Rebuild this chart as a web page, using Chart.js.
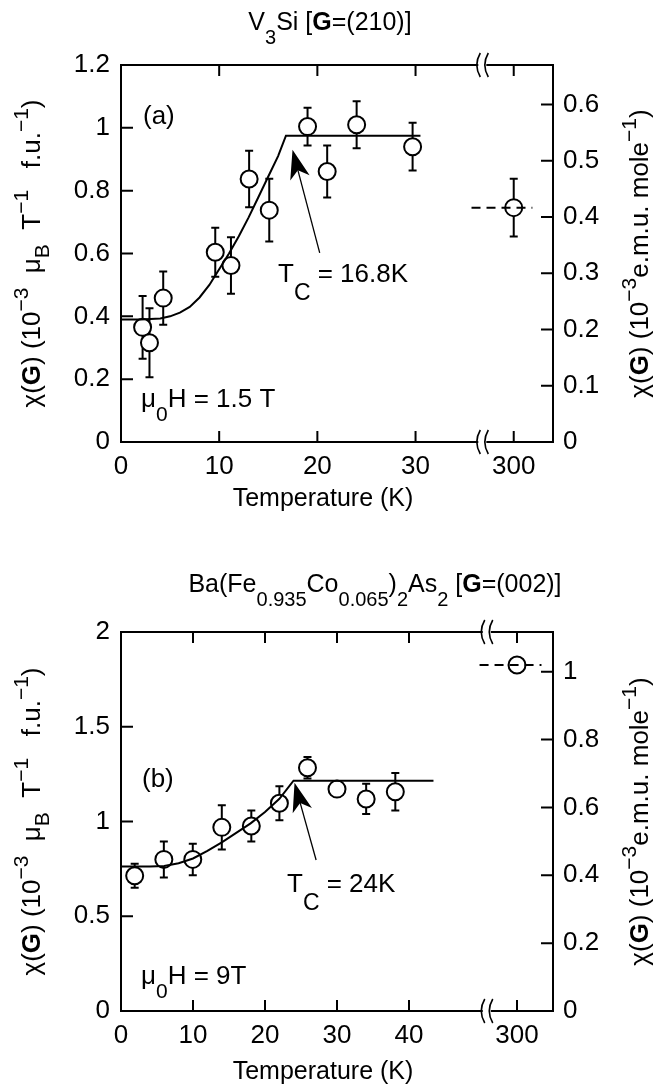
<!DOCTYPE html>
<html lang="en">
<head>
<meta charset="UTF-8">
<title>chi(G) x Temperature</title>
<script src="https://cdn.jsdelivr.net/npm/chart.js"></script>
<style>
  html, body { margin: 0; padding: 0; background: #fff; }
  body { width: 653px; height: 1092px; position: relative; overflow: hidden; }
  .painel { position: absolute; left: 0; width: 653px; height: 546px; }
  #painelA { top: 0; }
  #painelB { top: 546px; }
</style>
</head>
<body>
<div class="painel" id="painelA"><canvas id="graficoA"></canvas></div>
<div class="painel" id="painelB"><canvas id="graficoB"></canvas></div>

<script>
// ---------- (a) V3Si, G=(210) ----------
const tempA = [2.2, 2.9, 4.3, 9.6, 11.2, 13.05, 15.1, 19.0, 21.0, 24.0, 29.7];
const chiA  = [0.365, 0.316, 0.458, 0.604, 0.562, 0.837, 0.738, 1.004, 0.861, 1.01, 0.94];
const errA  = [0.10, 0.11, 0.085, 0.078, 0.09, 0.09, 0.10, 0.06, 0.083, 0.075, 0.076];
const chi300A = 0.746;
const err300A = 0.092;
const ajusteTA   = [0, 2, 4, 5, 6, 7, 8, 9, 10, 11, 12, 13, 14, 15, 16, 16.8, 30.5];
const ajusteChiA = [0.39, 0.39, 0.393, 0.40, 0.412, 0.43, 0.46, 0.50, 0.55, 0.60, 0.655, 0.715, 0.78, 0.845, 0.91, 0.975, 0.975];
// eixo x quebrado: 300 K fica na posicao 40 do eixo
const posXA     = [0, 10, 20, 30, 40];
const rotulosXA = ['0', '10', '20', '30', '300'];
const tracoXA   = [35.7, 41.9];
const quebraA   = 36.8;
const ticksYA     = [0, 0.2, 0.4, 0.6, 0.8, 1, 1.2];
const rotulosYA   = ['0', '0.2', '0.4', '0.6', '0.8', '1', '1.2'];
const ticksY2A    = [0, 0.1, 0.2, 0.3, 0.4, 0.5, 0.6];
const rotulosY2A  = ['0', '0.1', '0.2', '0.3', '0.4', '0.5', '0.6'];

// ---------- (b) Ba(Fe0.935Co0.065)2As2, G=(002) ----------
const tempB = [1.9, 5.95, 9.97, 14.0, 18.1, 22.0, 25.9, 30.0, 34.05, 38.1];
const chiB  = [0.714, 0.80, 0.80, 0.969, 0.976, 1.096, 1.284, 1.171, 1.119, 1.157];
const errB  = [0.063, 0.095, 0.083, 0.117, 0.082, 0.09, 0.057, 0.035, 0.08, 0.099];
const chi300B = 1.826;
const err300B = 0.035;
const ajusteTB   = [0, 4, 6, 8, 10, 12, 14, 16, 18, 20, 22, 23.96, 43.4];
const ajusteChiB = [0.762, 0.762, 0.765, 0.78, 0.805, 0.845, 0.89, 0.94, 0.99, 1.05, 1.12, 1.215, 1.215];
const posXB     = [0, 10, 20, 30, 40, 55];
const rotulosXB = ['0', '10', '20', '30', '40', '300'];
const tracoXB   = [49.8, 58.4];
const quebraB   = 50.8;
const ticksYB     = [0, 0.5, 1, 1.5, 2];
const rotulosYB   = ['0', '0.5', '1', '1.5', '2'];
const ticksY2B    = [0, 0.2, 0.4, 0.6, 0.8, 1];
const rotulosY2B  = ['0', '0.2', '0.4', '0.6', '0.8', '1'];

// 1 muB T^-1 por f.u. = 0.5585 e.m.u. mole^-1
const EMU_POR_MUB = 0.5585;

const FONTE = "'Liberation Sans', Arial, Helvetica, sans-serif";
Chart.defaults.font.family = FONTE;
Chart.defaults.color = '#000';

// texto com indices, expoentes e negrito
function textoRico(ctx, partes, x, y, o) {
    const fonte = p => {
        const ind = p[1] === 'sup' || p[1] === 'sub';
        return (p[1] === 'b' ? 'bold ' : '') + (ind ? o.tamInd : o.tam) + 'px ' + FONTE;
    };
    ctx.save();
    ctx.translate(x, y);
    if (o.rot) ctx.rotate(o.rot);
    let total = 0;
    partes.forEach(p => { ctx.font = fonte(p); total += ctx.measureText(p[0]).width; });
    let cx = o.alinhar === 'center' ? -total / 2 : 0;
    ctx.fillStyle = '#000';
    ctx.textAlign = 'left';
    ctx.textBaseline = 'alphabetic';
    partes.forEach(p => {
        ctx.font = fonte(p);
        let dy = 0;
        if (p[1] === 'sup') dy = -o.desSup;
        if (p[1] === 'sub') dy = o.desSub;
        ctx.fillText(p[0], cx, dy);
        cx += ctx.measureText(p[0]).width;
    });
    ctx.restore();
}

function seta(ctx, x1, y1, x2, y2) {
    const ang = Math.atan2(y2 - y1, x2 - x1);
    const comp = 29, larg = 10, recuo = 21;
    ctx.save();
    ctx.strokeStyle = '#000';
    ctx.fillStyle = '#000';
    ctx.lineWidth = 1.3;
    ctx.beginPath();
    ctx.moveTo(x1, y1);
    ctx.lineTo(x2 - Math.cos(ang) * recuo, y2 - Math.sin(ang) * recuo);
    ctx.stroke();
    ctx.translate(x2, y2);
    ctx.rotate(ang);
    ctx.beginPath();
    ctx.moveTo(0, 0);
    ctx.lineTo(-comp, -larg);
    ctx.lineTo(-recuo, 0);
    ctx.lineTo(-comp, larg);
    ctx.closePath();
    ctx.fill();
    ctx.restore();
}

const tituloEsq = [['χ(', ''], ['G', 'b'], [') (10', ''], ['−3', 'sup'], ['  μ', ''], ['B', 'sub'],
                   ['  T', ''], ['−1', 'sup'], ['   f.u.', ''], ['−1', 'sup'], [')', '']];
const tituloDir = [['χ(', ''], ['G', 'b'], [') (10', ''], ['−3', 'sup'], ['e.m.u. mole', ''], ['−1', 'sup'], [')', '']];

const barrasErro = {
    id: 'barrasErro',
    beforeDatasetsDraw(chart) {
        const ctx = chart.ctx, sx = chart.scales.x, sy = chart.scales.y;
        chart.data.datasets.forEach(ds => {
            if (!ds.erros) return;
            ctx.save();
            ctx.strokeStyle = '#000';
            ctx.lineWidth = 2;
            ds.data.forEach((pt, i) => {
                const x = sx.getPixelForValue(pt.x);
                const y1 = sy.getPixelForValue(pt.y + ds.erros[i]);
                const y2 = sy.getPixelForValue(pt.y - ds.erros[i]);
                ctx.beginPath();
                ctx.moveTo(x, y1); ctx.lineTo(x, y2);
                ctx.moveTo(x - 4, y1); ctx.lineTo(x + 4, y1);
                ctx.moveTo(x - 4, y2); ctx.lineTo(x + 4, y2);
                ctx.stroke();
            });
            ctx.restore();
        });
    }
};

function montarGrafico(idCanvas, p) {
    const pontos = p.temp.map((t, i) => ({ x: t, y: p.chi[i] }));
    pontos.push({ x: p.posX[p.posX.length - 1], y: p.chi300 });
    const erros = p.err.concat([p.err300]);
    const ajuste = p.ajusteT.map((t, i) => ({ x: t, y: p.ajusteChi[i] }));
    const tracejado = p.tracoX.map(t => ({ x: t, y: p.chi300 }));

    const moldura = {
        id: 'moldura',
        afterDraw(chart) {
            const ctx = chart.ctx;
            const a = chart.chartArea;
            const sx = chart.scales.x, sy = chart.scales.y, sy2 = chart.scales.y2;
            ctx.save();
            ctx.strokeStyle = '#000';
            ctx.lineWidth = 2;
            ctx.beginPath();
            ctx.rect(a.left, a.top, a.right - a.left, a.bottom - a.top);
            sx.ticks.forEach(t => {
                const px = sx.getPixelForValue(t.value);
                ctx.moveTo(px, a.bottom); ctx.lineTo(px, a.bottom - 11);
                ctx.moveTo(px, a.top); ctx.lineTo(px, a.top + 11);
            });
            sy.ticks.forEach(t => {
                const py = sy.getPixelForValue(t.value);
                ctx.moveTo(a.left, py); ctx.lineTo(a.left + 12, py);
            });
            sy2.ticks.forEach(t => {
                const py = sy2.getPixelForValue(t.value);
                ctx.moveTo(a.right, py); ctx.lineTo(a.right - 12, py);
            });
            ctx.stroke();
            // simbolo de quebra do eixo
            const qx = sx.getPixelForValue(p.quebra);
            [a.top, a.bottom].forEach(yy => {
                ctx.fillStyle = '#fff';
                ctx.fillRect(qx - 4, yy - 2, 8, 4);
                ctx.lineWidth = 1.6;
                ctx.beginPath();
                [-4, 4].forEach(dx => {
                    ctx.moveTo(qx + dx + 2, yy + 12);
                    ctx.quadraticCurveTo(qx + dx - 5, yy, qx + dx + 2, yy - 12);
                });
                ctx.stroke();
            });
            ctx.restore();
        }
    };

    const anotacoes = {
        id: 'anotacoes',
        afterDraw(chart) { p.anotar(chart); }
    };

    const eixoSemGrade = { display: false, drawTicks: false };

    return new Chart(document.getElementById(idCanvas), {
        type: 'scatter',
        data: {
            datasets: [
                { label: 'tracejado', data: tracejado, showLine: true, borderColor: '#000', borderWidth: 2,
                  borderDash: [9, 6], pointRadius: 0, order: 0 },
                { label: 'ajuste', data: ajuste, showLine: true, borderColor: '#000', borderWidth: 2,
                  tension: 0, pointRadius: 0, order: 1 },
                { label: 'medidas', data: pontos, erros: erros, pointRadius: 8.5, pointBorderWidth: 2,
                  pointBackgroundColor: '#fff', pointBorderColor: '#000', order: 2 }
            ]
        },
        options: {
            responsive: true,
            maintainAspectRatio: false,
            animation: false,
            layout: { padding: { top: p.topo, left: 0, right: 0, bottom: 0 } },
            plugins: { legend: { display: false }, tooltip: { enabled: false } },
            scales: {
                x: {
                    type: 'linear', position: 'bottom', min: 0, max: p.xMax,
                    grid: eixoSemGrade, border: { display: false },
                    afterBuildTicks: s => { s.ticks = p.posX.map(v => ({ value: v })); },
                    afterFit: s => { s.height = 546 - p.base; },
                    ticks: { autoSkip: false, maxRotation: 0, padding: 9, font: { size: 26 },
                             callback: (v, i) => p.rotulosX[i] }
                },
                y: {
                    type: 'linear', position: 'left', min: 0, max: p.yMax,
                    grid: eixoSemGrade, border: { display: false },
                    afterBuildTicks: s => { s.ticks = p.ticksY.map(v => ({ value: v })); },
                    afterFit: s => { s.width = p.esq; },
                    ticks: { padding: 11, font: { size: 26 }, callback: (v, i) => p.rotulosY[i] }
                },
                y2: {
                    type: 'linear', position: 'right', min: 0, max: p.yMax * EMU_POR_MUB,
                    grid: eixoSemGrade, border: { display: false },
                    afterBuildTicks: s => { s.ticks = p.ticksY2.map(v => ({ value: v })); },
                    afterFit: s => { s.width = 653 - p.dir; },
                    ticks: { padding: 10, font: { size: 26 }, callback: (v, i) => p.rotulosY2[i] }
                }
            }
        },
        plugins: [barrasErro, moldura, anotacoes]
    });
}

function titulosEixos(chart) {
    const ctx = chart.ctx, a = chart.chartArea;
    const meio = (a.top + a.bottom) / 2;
    const o = { tam: 26, tamInd: 21, desSup: 12, desSub: 9, alinhar: 'center', rot: -Math.PI / 2 };
    textoRico(ctx, tituloEsq, 40, meio, o);
    textoRico(ctx, tituloDir, 648, meio, o);
}

montarGrafico('graficoA', {
    temp: tempA, chi: chiA, err: errA, chi300: chi300A, err300: err300A,
    ajusteT: ajusteTA, ajusteChi: ajusteChiA, posX: posXA, rotulosX: rotulosXA,
    tracoX: tracoXA, quebra: quebraA, ticksY: ticksYA, rotulosY: rotulosYA,
    ticksY2: ticksY2A, rotulosY2: rotulosY2A,
    xMax: 44, yMax: 1.2, topo: 65, base: 442, esq: 121, dir: 553,
    anotar(chart) {
        const ctx = chart.ctx, sx = chart.scales.x, sy = chart.scales.y;
        textoRico(ctx, [['V', ''], ['3', 'sub'], ['Si [', ''], ['G', 'b'], ['=(210)]', '']], 330, 30,
                  { tam: 25, tamInd: 20, desSub: 14, alinhar: 'center' });
        textoRico(ctx, [['(a)', '']], 143, 124, { tam: 26 });
        textoRico(ctx, [['T', ''], ['C', 'sub'], [' = 16.8K', '']], 278, 282,
                  { tam: 26, tamInd: 23, desSub: 18 });
        seta(ctx, sx.getPixelForValue(20.24), sy.getPixelForValue(0.602),
                  sx.getPixelForValue(17.47), sy.getPixelForValue(0.93));
        textoRico(ctx, [['μ', ''], ['0', 'sub'], ['H = 1.5 T', '']], 141, 407,
                  { tam: 26, tamInd: 21, desSub: 14 });
        textoRico(ctx, [['Temperature (K)', '']], 323, 506, { tam: 25, alinhar: 'center' });
        titulosEixos(chart);
    }
});

montarGrafico('graficoB', {
    temp: tempB, chi: chiB, err: errB, chi300: chi300B, err300: err300B,
    ajusteT: ajusteTB, ajusteChi: ajusteChiB, posX: posXB, rotulosX: rotulosXB,
    tracoX: tracoXB, quebra: quebraB, ticksY: ticksYB, rotulosY: rotulosYB,
    ticksY2: ticksY2B, rotulosY2: rotulosY2B,
    xMax: 60, yMax: 2, topo: 86, base: 465, esq: 121, dir: 553,
    anotar(chart) {
        const ctx = chart.ctx, sx = chart.scales.x, sy = chart.scales.y;
        textoRico(ctx, [['Ba(Fe', ''], ['0.935', 'sub'], ['Co', ''], ['0.065', 'sub'], [')', ''], ['2', 'sub'],
                        ['As', ''], ['2', 'sub'], [' [', ''], ['G', 'b'], ['=(002)]', '']], 375, 46,
                  { tam: 25, tamInd: 20, desSub: 14, alinhar: 'center' });
        textoRico(ctx, [['(b)', '']], 142, 241, { tam: 26 });
        textoRico(ctx, [['T', ''], ['C', 'sub'], [' = 24K', '']], 287, 346,
                  { tam: 26, tamInd: 23, desSub: 18 });
        seta(ctx, sx.getPixelForValue(27.1), sy.getPixelForValue(0.797),
                  sx.getPixelForValue(24.1), sy.getPixelForValue(1.205));
        textoRico(ctx, [['μ', ''], ['0', 'sub'], ['H = 9T', '']], 141, 438,
                  { tam: 26, tamInd: 21, desSub: 14 });
        textoRico(ctx, [['Temperature (K)', '']], 323, 533, { tam: 25, alinhar: 'center' });
        titulosEixos(chart);
    }
});
</script>
</body>
</html>
